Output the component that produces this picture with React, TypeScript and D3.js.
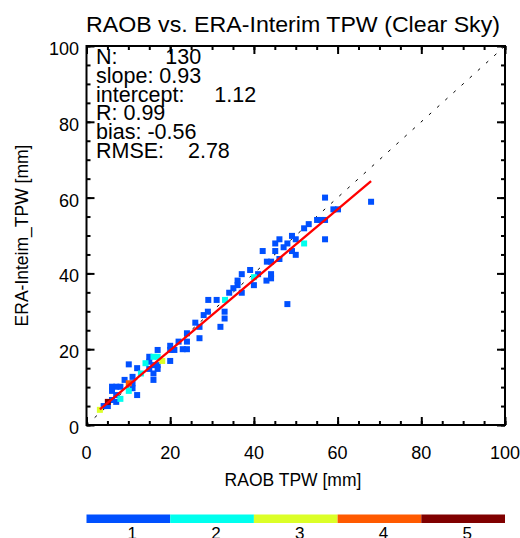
import React, { useRef, useEffect } from "react";
import * as d3 from "d3";

// RAOB (x) vs ERA-Interim (y) TPW, mm, and the count of each bin (1..5)
const raobTpw = [
  57.0, 68.0, 59.0, 60.1, 55.1, 56.0, 57.0, 57.0, 52.0, 53.1,
  49.1, 50.0, 46.1, 45.1, 48.0, 47.1, 45.1, 46.1, 49.1, 50.0,
  52.0, 42.1, 43.1, 44.1, 39.1, 37.1, 41.0, 44.1, 44.1, 43.0,
  40.0, 40.0, 36.1, 36.1, 35.1, 34.1, 37.1, 29.1, 31.1, 33.1, 48.0,
  33.0, 33.0, 32.0, 28.0, 29.0, 26.0, 27.0, 27.0, 24.0, 24.0,
  23.0, 24.0, 22.0, 20.0, 20.0, 21.0, 20.0, 18.1, 17.0, 17.0,
  16.0, 15.0, 15.0, 14.1, 16.0, 17.0, 17.0, 16.0, 16.0, 15.0,
  10.1, 12.1, 13.0, 11.0, 9.1, 10.1, 11.0, 11.0, 10.1, 12.1,
  8.1, 6.1, 7.1, 6.1, 7.1, 8.1, 6.1, 7.1, 5.1, 4.1, 5.1, 3.2,
];
const eraTpw = [
  60.0, 58.9, 56.9, 56.9, 54.1, 54.1, 54.1, 49.0, 51.9, 53.0,
  49.9, 49.0, 49.0, 47.9, 47.9, 46.9, 45.9, 43.8, 45.9, 44.9,
  47.9, 45.9, 43.1, 43.1, 40.9, 39.8, 39.8, 39.8, 38.7, 38.1,
  39.0, 36.9, 38.1, 36.9, 36.1, 34.9, 34.9, 33.0, 33.0, 33.0, 31.9,
  29.9, 28.1, 25.9, 29.0, 29.9, 27.0, 25.9, 22.9, 24.2, 22.0,
  20.0, 20.0, 22.0, 20.9, 19.8, 19.8, 16.9, 16.9, 19.8, 18.0,
  18.0, 18.0, 16.7, 16.3, 15.8, 15.8, 14.8, 13.6, 11.9, 14.8,
  16.0, 15.0, 13.6, 12.7, 11.9, 11.0, 11.0, 9.7, 9.0, 7.9,
  10.1, 10.1, 10.1, 9.0, 7.9, 6.9, 6.6, 6.1, 6.1, 5.0, 5.0, 4.0,
];
const pointCount = [
  1, 1, 1, 1, 1, 1, 1, 1, 1, 1,
  1, 1, 1, 1, 1, 1, 1, 1, 1, 1,
  2, 1, 1, 1, 1, 1, 1, 1, 1, 1,
  2, 1, 1, 1, 1, 1, 1, 1, 1, 2, 1,
  1, 1, 1, 1, 1, 1, 1, 1, 1, 1,
  1, 1, 1, 1, 1, 1, 1, 3, 1, 2,
  2, 1, 1, 2, 1, 1, 1, 1, 1, 1,
  1, 1, 2, 1, 1, 4, 1, 1, 2, 1,
  1, 1, 1, 1, 1, 2, 1, 1, 5, 1, 1, 3,
];

const statLines = [
  "N:        130",
  "slope: 0.93",
  "intercept:     1.12",
  "R: 0.99",
  "bias: -0.56",
  "RMSE:    2.78",
];
const fitSlope = 0.93;
const fitIntercept = 1.12;

const majorTicks = [0, 20, 40, 60, 80, 100];
const minorTicks = d3.range(0, 101, 5);
const countLabels = ["1", "2", "3", "4", "5"];
const countColors = ["#0050ff", "#00ffee", "#dcff28", "#ff5a00", "#800000"];

const font = "'Liberation Sans', Arial, Helvetica, sans-serif";

const App = () => {
  const axesRef = useRef<SVGGElement>(null);

  const margin = { top: 46, right: 15, bottom: 113, left: 86.5 };
  const W = 520;
  const H = 538;
  const x = d3.scaleLinear().domain([0, 100]).range([margin.left, W - margin.right]);
  const y = d3.scaleLinear().domain([0, 100]).range([H - margin.bottom, margin.top]);

  const bar = d3.scaleBand().domain(countLabels).range([86.5, 505]).paddingInner(0);

  useEffect(() => {
    const g = d3.select(axesRef.current);
    g.selectAll("*").remove();

    const sides = [
      { axis: d3.axisBottom(x), t: `translate(0,${y(0)})` },
      { axis: d3.axisTop(x), t: `translate(0,${y(100)})` },
      { axis: d3.axisLeft(y), t: `translate(${x(0)},0)` },
      { axis: d3.axisRight(y), t: `translate(${x(100)},0)` },
    ];
    sides.forEach(({ axis, t }) => {
      // minor ticks every 5, major every 20, all pointing inward
      g.append("g")
        .attr("transform", t)
        .call(axis.tickValues(minorTicks).tickSize(-4).tickFormat(() => ""))
        .call((s) => s.select(".domain").remove());
      g.append("g")
        .attr("transform", t)
        .call(axis.tickValues(majorTicks).tickSize(-8).tickFormat(() => ""))
        .call((s) => s.select(".domain").remove());
    });
    g.selectAll("line").attr("stroke", "#000").attr("stroke-width", 2);
  }, []);

  const order = d3.range(raobTpw.length).sort((a, b) => pointCount[a] - pointCount[b]);
  const sq = 6;

  const xMin = d3.min(raobTpw) as number;
  const xMax = d3.max(raobTpw) as number;
  const fitLine = d3
    .line<number>()
    .x((d) => x(d))
    .y((d) => y(fitSlope * d + fitIntercept));

  return (
    <svg
      width={W}
      height={H}
      style={{ position: "absolute", left: 0, top: 0, background: "#fff" }}
      fontFamily={font}
    >
      <text x={293} y={32} fontSize={22} textAnchor="middle" textLength={414} lengthAdjust="spacingAndGlyphs">
        RAOB vs. ERA-Interim TPW (Clear Sky)
      </text>

      {/* 1:1 line */}
      <line
        x1={x(0)}
        y1={y(0)}
        x2={x(100)}
        y2={y(100)}
        stroke="#000"
        strokeWidth={1}
        strokeDasharray="3,8"
      />

      {order.map((i) => (
        <rect
          key={i}
          x={x(raobTpw[i]) - sq / 2}
          y={y(eraTpw[i]) - sq / 2}
          width={sq}
          height={sq}
          fill={countColors[pointCount[i] - 1]}
        />
      ))}

      <path d={fitLine([xMin, xMax]) || ""} stroke="#ff0000" strokeWidth={2.3} fill="none" />

      <g ref={axesRef} />
      <rect
        x={x(0)}
        y={y(100)}
        width={x(100) - x(0)}
        height={y(0) - y(100)}
        fill="none"
        stroke="#000"
        strokeWidth={2}
      />

      {statLines.map((s, i) => (
        <text key={s} x={96} y={64.3 + i * 18.7} fontSize={21.5} style={{ whiteSpace: "pre" }}>
          {s}
        </text>
      ))}

      {majorTicks.map((t) => (
        <text key={"y" + t} x={79} y={y(t) + 9} fontSize={18} textAnchor="end">
          {t}
        </text>
      ))}
      {majorTicks.map((t) => (
        <text key={"x" + t} x={x(t)} y={459} fontSize={18} textAnchor="middle">
          {t}
        </text>
      ))}

      <text x={293} y={486} fontSize={17.5} textAnchor="middle">
        RAOB TPW [mm]
      </text>
      <text
        transform={`translate(28,${(y(0) + y(100)) / 2}) rotate(-90)`}
        fontSize={17.5}
        textAnchor="middle"
      >
        ERA-Inteim_TPW [mm]
      </text>

      {countLabels.map((c, i) => (
        <g key={c}>
          <rect x={bar(c)} y={514.5} width={bar.bandwidth()} height={8.5} fill={countColors[i]} />
          <text x={(bar(c) as number) + bar.bandwidth() / 2 + 4} y={539} fontSize={17} textAnchor="middle">
            {c}
          </text>
        </g>
      ))}
    </svg>
  );
};

export default App;
